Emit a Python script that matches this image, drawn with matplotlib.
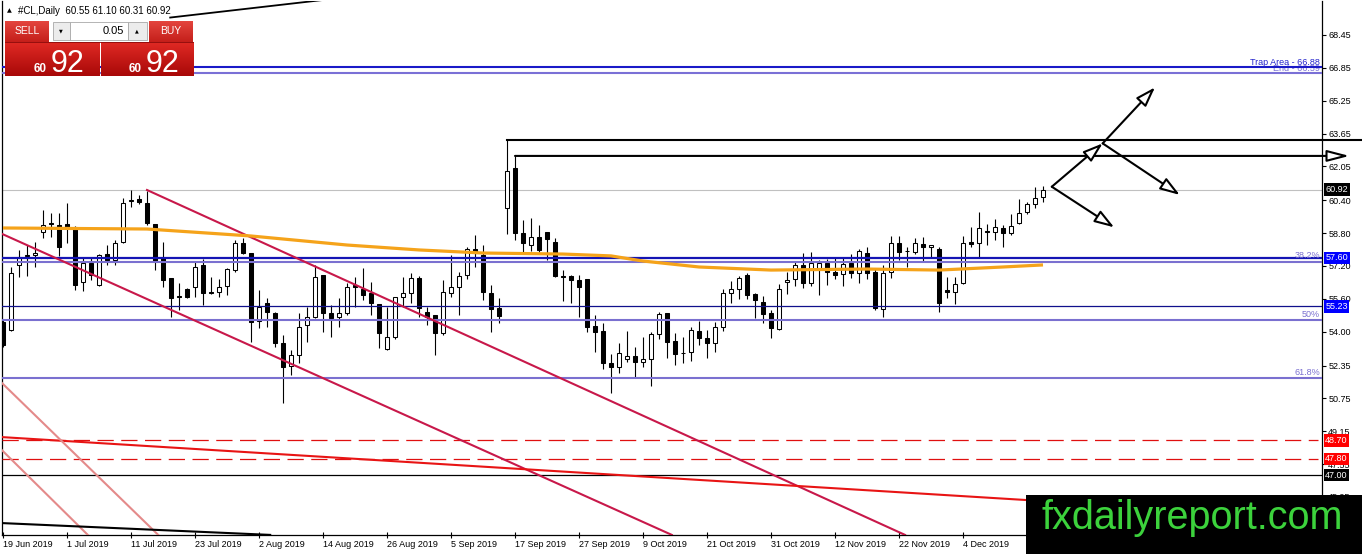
import matplotlib
matplotlib.use('Agg')
import matplotlib.pyplot as plt
from matplotlib.patches import Rectangle
from matplotlib.colors import LinearSegmentedColormap
import numpy as np

plt.rcParams['font.family'] = ['Liberation Sans', 'DejaVu Sans']

# ---------------- data ----------------
opens = [54.45, 54.08, 57.25, 57.69, 57.72, 58.85, 59.31, 59.20, 59.24, 59.11,
         56.42, 57.35, 56.27, 57.78, 57.49, 58.37, 60.36, 60.46, 60.27, 59.24,
         57.59, 56.61, 55.74, 56.08, 56.18, 57.25, 55.93, 55.93, 56.22, 57.00,
         58.32, 57.83, 54.52, 55.40, 54.91, 53.45, 52.33, 52.86, 54.32, 54.71,
         56.76, 54.91, 54.71, 54.91, 56.27, 56.08, 55.88, 55.35, 53.15, 53.74,
         55.69, 55.88, 56.61, 54.96, 54.81, 53.93, 55.88, 56.18, 56.76, 58.03,
         57.73, 55.88, 55.15, 60.02, 61.97, 58.81, 58.22, 58.61, 58.85, 58.37,
         56.69, 56.71, 56.52, 56.56, 54.28, 54.03, 52.47, 52.28, 52.67, 52.81,
         52.52, 52.67, 53.89, 54.91, 53.54, 52.98, 53.01, 54.03, 53.69, 53.45,
         54.23, 55.88, 56.08, 56.76, 55.83, 55.45, 54.91, 54.13, 56.42, 56.56,
         57.25, 56.37, 57.10, 57.35, 56.91, 56.81, 57.35, 56.86, 57.83, 56.91,
         55.10, 56.91, 58.32, 57.95, 57.88, 58.27, 58.12, 58.03, 56.03, 55.93,
         56.37, 58.37, 58.32, 58.90, 58.85, 59.05, 58.81, 59.29, 59.83, 60.22,
         60.55]
highs = [54.60, 57.15, 57.98, 58.22, 58.37, 59.93, 59.78, 59.78, 60.27, 59.15,
         57.64, 57.64, 57.78, 58.22, 58.46, 60.51, 60.90, 60.66, 60.87, 59.24,
         58.37, 56.61, 56.37, 56.13, 57.39, 57.54, 56.66, 56.56, 57.10, 58.46,
         58.56, 57.83, 56.03, 55.64, 54.96, 53.84, 53.11, 54.91, 55.20, 57.25,
         56.76, 55.30, 55.64, 56.37, 56.66, 57.10, 56.42, 55.35, 55.20, 55.69,
         56.66, 56.86, 56.71, 55.20, 54.81, 56.52, 57.74, 56.91, 58.12, 58.71,
         58.22, 56.27, 55.64, 63.34, 62.56, 59.44, 59.54, 59.20, 58.85, 58.56,
         57.00, 56.76, 56.76, 56.56, 54.81, 54.42, 52.91, 53.45, 54.03, 53.25,
         53.74, 53.98, 54.96, 54.91, 53.93, 53.74, 54.23, 54.52, 54.08, 54.47,
         56.08, 56.47, 56.71, 56.86, 55.88, 55.74, 55.05, 56.32, 56.91, 57.39,
         57.83, 57.88, 57.49, 57.54, 57.59, 57.59, 57.78, 58.03, 58.12, 57.10,
         57.25, 58.66, 58.66, 58.12, 58.56, 58.61, 58.22, 58.12, 56.66, 56.66,
         58.66, 59.10, 59.83, 59.24, 59.49, 59.20, 59.73, 60.46, 60.32, 61.05,
         61.10]
lows = [53.25, 54.03, 56.66, 56.71, 57.15, 58.56, 58.61, 57.69, 58.32, 56.03,
        55.98, 56.52, 56.20, 57.25, 57.25, 58.32, 60.07, 60.22, 59.20, 57.00,
        56.18, 54.71, 55.05, 55.64, 55.69, 55.30, 55.83, 55.69, 55.78, 56.91,
        57.78, 53.50, 54.18, 54.23, 53.25, 50.53, 51.89, 52.47, 53.50, 54.66,
        53.98, 53.74, 54.23, 54.81, 55.20, 55.54, 54.81, 53.20, 53.11, 53.64,
        55.20, 55.40, 54.71, 54.32, 52.86, 53.84, 55.69, 54.81, 56.56, 57.15,
        55.54, 53.98, 54.42, 58.76, 58.46, 57.83, 57.93, 57.88, 57.49, 56.66,
        55.49, 55.40, 54.71, 53.98, 53.01, 52.18, 51.01, 51.99, 52.52, 51.79,
        52.28, 51.35, 53.64, 52.72, 52.38, 52.47, 52.57, 53.35, 52.72, 53.01,
        54.03, 55.40, 55.59, 55.59, 54.66, 54.42, 53.69, 54.08, 55.83, 56.22,
        56.13, 56.22, 55.78, 56.27, 56.56, 56.22, 56.61, 56.37, 56.56, 55.05,
        54.71, 56.61, 57.49, 57.15, 57.78, 57.44, 57.64, 54.96, 55.64, 55.35,
        56.32, 58.12, 57.64, 58.22, 58.46, 58.12, 58.71, 59.24, 59.73, 60.02,
        60.31]
closes = [53.35, 56.86, 57.64, 57.74, 57.85, 59.20, 59.23, 58.14, 59.11, 56.27,
          57.35, 56.76, 57.74, 57.49, 58.32, 60.27, 60.39, 60.33, 59.29, 57.44,
          56.52, 55.64, 55.69, 55.69, 57.15, 55.88, 55.88, 56.18, 57.05, 58.32,
          57.83, 54.47, 55.20, 54.96, 53.45, 52.28, 52.86, 54.23, 54.71, 56.66,
          54.91, 54.66, 54.91, 56.18, 56.18, 55.79, 55.40, 53.93, 53.74, 55.69,
          55.88, 56.61, 55.15, 54.71, 53.93, 55.93, 56.18, 56.71, 58.03, 57.83,
          55.93, 55.10, 54.76, 61.83, 58.81, 58.32, 58.61, 57.98, 58.51, 56.71,
          56.66, 56.52, 56.18, 54.23, 53.98, 52.47, 52.28, 52.96, 52.81, 52.52,
          52.67, 53.89, 54.86, 53.50, 52.91, 52.96, 54.08, 53.69, 53.45, 54.23,
          55.88, 56.08, 56.61, 55.79, 55.54, 54.86, 54.18, 56.08, 56.52, 57.25,
          56.37, 57.35, 57.35, 56.91, 56.76, 57.30, 56.86, 57.93, 56.86, 55.15,
          56.86, 58.32, 57.88, 57.93, 58.32, 58.12, 58.22, 55.40, 55.93, 56.32,
          58.32, 58.27, 59.05, 58.85, 59.10, 58.81, 59.15, 59.78, 60.22, 60.51,
          60.92]

date_labels = ['19 Jun 2019', '1 Jul 2019', '11 Jul 2019', '23 Jul 2019',
               '2 Aug 2019', '14 Aug 2019', '26 Aug 2019', '5 Sep 2019',
               '17 Sep 2019', '27 Sep 2019', '9 Oct 2019', '21 Oct 2019',
               '31 Oct 2019', '12 Nov 2019', '22 Nov 2019', '4 Dec 2019']
date_label_bars = list(range(0, 121, 8))

y_tick_values = [68.45, 66.85, 65.25, 63.65, 62.05, 60.40, 58.80, 57.20,
                 55.60, 54.00, 52.35, 50.75, 49.15, 47.55, 45.95]

ma_bars = [0, 18, 31, 43, 52, 60, 70, 76, 80, 87, 96, 108, 117, 125, 130]
ma_values = [59.05, 59.00, 58.66, 58.22, 57.98, 57.83, 57.78, 57.69, 57.44,
             57.15, 57.00, 57.05, 57.00, 57.15, 57.25]

bid_price = 60.92
trap_level = 66.88
end_level = 66.59
blue_levels = [57.60, 55.23]
fib_levels = [57.41, 54.57, 51.73]
fib_labels = ['38.2%', '50%', '61.8%']
red_dashed_levels = [48.70, 47.80]
black_level = 47.00
swing_bars = [63, 64]
swing_prices = [63.34, 62.56]

channel_upper_x = [18, 112.75]
channel_upper_y = [60.90, 44.10]
channel_lower_x = [-0.4, 83.6]
channel_lower_y = [58.81, 44.10]
red_line_x = [-0.4, 165]
red_line_y = [48.87, 44.91]
salmon1_x = [-0.4, 10.6]
salmon1_y = [48.33, 44.10]
salmon2_x = [-0.4, 19.4]
salmon2_y = [51.60, 44.10]
black_bottom_x = [-0.4, 33.4]
black_bottom_y = [44.68, 44.10]
black_top_x = [20.9, 40.1]
black_top_y = [69.30, 70.16]

arrow_p0 = (131.1, 61.06)
arrow_p1 = (137.46, 63.17)
arrow_tip_up = (144.0, 65.90)
arrow_tip_mid = (147.1, 60.66)
arrow_tip_low = (138.9, 59.08)

# ---------------- figure ----------------
W, H = 1362, 554
fig = plt.figure(figsize=(W / 100, H / 100), dpi=100)
fig.patch.set_facecolor('white')
ax = fig.add_axes([2 / W, 19 / H, 1320 / W, 534 / H])
ax.set_xlim(-0.125, 164.875)
ax.set_ylim(44.095, 70.106)

o = np.array(opens); h = np.array(highs); l = np.array(lows); c = np.array(closes)
xs = np.arange(len(o))
up = c >= o
ax.vlines(xs, l, h, color='black', lw=0.8, zorder=3)
body_bottom = np.minimum(o, c)
body_h = np.maximum(np.abs(c - o), 0.015)
ax.bar(xs, body_h, bottom=body_bottom, width=0.6,
       color=np.where(up, 'white', 'black'), edgecolor='black',
       linewidth=0.75, zorder=4)

# horizontal levels
ax.axhline(bid_price, color='#c0c0c0', lw=0.8, zorder=2)
ax.axhline(end_level, color='#7a70d6', lw=1.5, zorder=5)
ax.axhline(trap_level, color='#1a1ac8', lw=1.5, zorder=6)
ax.axhline(blue_levels[0], color='#1414b4', lw=1.6, zorder=6)
ax.axhline(blue_levels[1], color='#10108c', lw=0.9, zorder=6)
for lv in fib_levels:
    ax.axhline(lv, color='#7a70d0', lw=1.5, zorder=5)
for lv in red_dashed_levels:
    ax.plot([-0.125, 164.4], [lv, lv], color='#e01010', lw=0.9,
            ls=(0, (13, 6)), zorder=5)
ax.axhline(black_level, color='black', lw=0.9, zorder=5)

# moving average
ax.plot(ma_bars, ma_values, color='#f5a31a', lw=2.3, zorder=7,
        solid_capstyle='butt')

# trend lines
ax.plot(channel_upper_x, channel_upper_y, color='#c8184a', lw=1.5, zorder=6)
ax.plot(channel_lower_x, channel_lower_y, color='#c8184a', lw=1.5, zorder=6)
ax.plot(red_line_x, red_line_y, color='#e81414', lw=1.5, zorder=6)
ax.plot(salmon1_x, salmon1_y, color='#e48a8a', lw=1.5, zorder=6)
ax.plot(salmon2_x, salmon2_y, color='#e48a8a', lw=1.5, zorder=6)
ax.plot(black_bottom_x, black_bottom_y, color='black', lw=1.5, zorder=6)
ax.plot(black_top_x, black_top_y, color='black', lw=1.3, zorder=6)

# swing-high lines
ax.plot([swing_bars[0], 169.9], [swing_prices[0]] * 2, color='black', lw=1.5,
        zorder=8, clip_on=False)
ann = ax.annotate('', xy=(168.3, swing_prices[1]),
                  xytext=(swing_bars[1], swing_prices[1]),
                  arrowprops=dict(arrowstyle='-|>,head_length=1.35,head_width=0.35',
                                  fc='white', ec='black', lw=1.5,
                                  shrinkA=0, shrinkB=0, mutation_scale=10),
                  annotation_clip=False, zorder=8)
ann.arrow_patch.set_clip_on(False)


def arrow(p_from, p_to):
    a = ax.annotate('', xy=p_to, xytext=p_from,
                    arrowprops=dict(arrowstyle='-|>,head_length=1.2,head_width=0.4',
                                    fc='white', ec='black', lw=1.5,
                                    shrinkA=0, shrinkB=0, mutation_scale=10),
                    zorder=9)
    return a


arrow(arrow_p0, arrow_p1)
arrow(arrow_p1, arrow_tip_up)
arrow(arrow_p1, arrow_tip_mid)
arrow(arrow_p0, arrow_tip_low)

# level texts
tr = ax.get_yaxis_transform()
ax.text(0.9985, end_level + 0.02, 'End - 66.59', transform=tr, ha='right',
        va='bottom', fontsize=6.5, color='#7a70d6', zorder=5)
ax.text(0.9985, trap_level + 0.02, 'Trap Area - 66.88', transform=tr,
        ha='right', va='bottom', fontsize=6.5, color='#2424cc', zorder=7)
for lv, lab in zip(fib_levels, fib_labels):
    ax.text(0.9985, lv + 0.06, lab, transform=tr, ha='right', va='bottom',
            fontsize=6.5, color='#7a70d0', zorder=7)

# axes styling
ax.spines['top'].set_visible(False)
for s in ['left', 'right', 'bottom']:
    ax.spines[s].set_linewidth(0.9)
    ax.spines[s].set_color('black')
ax.yaxis.tick_right()
ax.set_yticks(y_tick_values)
ax.set_yticklabels([f'{v:.2f}' for v in y_tick_values])
ax.tick_params(axis='y', direction='out', length=3, width=0.8, pad=1.5,
               labelsize=6.5, colors='black')
ax.set_xticks(date_label_bars)
ax.set_xticklabels(date_labels)
ax.tick_params(axis='x', direction='inout', length=4, width=0.8, pad=1.5,
               labelsize=6.5, colors='black')
for lbl in ax.get_xticklabels():
    lbl.set_horizontalalignment('left')

# price boxes on the right axis
box_specs = [(bid_price, '#000000'), (blue_levels[0], '#0000ff'),
             (blue_levels[1], '#0000ff'), (red_dashed_levels[0], '#ff0000'),
             (red_dashed_levels[1], '#ff0000'), (black_level, '#000000')]
for val, col in box_specs:
    ax.text(1.0025, val, f'{val:.2f}', transform=tr, ha='left', va='center',
            fontsize=6.5, color='white', zorder=20, clip_on=False,
            bbox=dict(boxstyle='square,pad=0.18', fc=col, ec='none'))

# ---------------- overlay (header, trade panel, watermark) ----------------
ov = fig.add_axes([0, 0, 1, 1])
ov.set_zorder(10)
ov.patch.set_visible(False)
ov.axis('off')

ov.text(7, 11, '\u25b2', fontsize=4.5, va='center', ha='left',
        family=['DejaVu Sans'])
ov.text(18, 11, '#CL,Daily  60.55 61.10 60.31 60.92', fontsize=7,
        va='center', ha='left', color='black')

grad = np.linspace(0, 1, 64).reshape(-1, 1)
cm_btn = LinearSegmentedColormap.from_list('btn', ['#e4453e', '#c41f1a'])
cm_price = LinearSegmentedColormap.from_list('prc', ['#e02a24', '#a80808'])
for ext in [(5, 49, 42, 21), (149, 193, 42, 21)]:
    ov.imshow(grad, extent=ext, cmap=cm_btn, aspect='auto', zorder=1,
              interpolation='bilinear')
for ext in [(5, 99.5, 76, 42), (100.5, 193, 76, 42)]:
    ov.imshow(grad, extent=ext, cmap=cm_price, aspect='auto', zorder=1,
              interpolation='bilinear')
ov.plot([5, 193], [42, 42], color='#8a0a0a', lw=0.6, zorder=2)
ov.add_patch(Rectangle((52.5, 22), 17.5, 18, fc='#ececec', ec='#a8a8a8',
                       lw=0.6, zorder=2))
ov.add_patch(Rectangle((70, 22), 58, 18, fc='white', ec='#a8a8a8', lw=0.6,
                       zorder=2))
ov.add_patch(Rectangle((128, 22), 18.5, 18, fc='#ececec', ec='#a8a8a8',
                       lw=0.6, zorder=2))
ov.text(61, 31, '\u25bc', fontsize=3.5, ha='center', va='center',
        family=['DejaVu Sans'], zorder=3)
ov.text(137, 31, '\u25b2', fontsize=3.5, ha='center', va='center',
        family=['DejaVu Sans'], zorder=3)
ov.text(124, 31, '0.05', fontsize=8, ha='right', va='center', zorder=3)
ov.text(27, 31, 'SELL', fontsize=7.5, ha='center', va='center',
        color='white', zorder=3)
ov.text(171, 31, 'BUY', fontsize=7.5, ha='center', va='center',
        color='white', zorder=3)
for x_small, x_big in [(34, 51), (129, 146)]:
    ov.text(x_small, 72, '60', fontsize=8.5, fontweight='bold', ha='left',
            va='baseline', color='white', zorder=3)
    ov.text(x_big, 72, '92', fontsize=22, ha='left', va='baseline',
            color='white', zorder=3)

ov.add_patch(Rectangle((1026, 495), 336, 59, fc='black', ec='none', zorder=1))
ov.text(1042, 529, 'fxdailyreport.com', fontsize=28.5, color='#3cd23c',
        ha='left', va='baseline', zorder=2)

ov.set_xlim(0, W)
ov.set_ylim(H, 0)

fig.savefig('out.png', dpi=100)
